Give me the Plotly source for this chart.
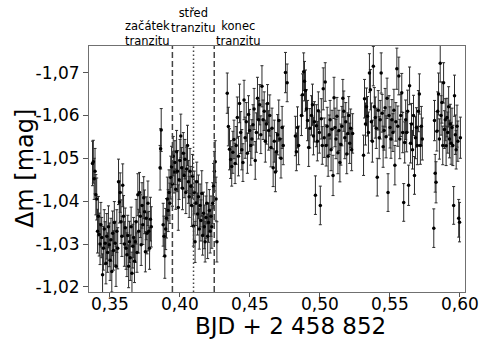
import plotly.graph_objects as go

# ---------------- data ----------------
g1_bjd = [0.3375, 0.3381, 0.3387, 0.3393, 0.3399, 0.3405, 0.3411, 0.3417, 0.3423, 0.3429,
          0.3435, 0.3441, 0.3447, 0.3453, 0.3459, 0.3465, 0.3471, 0.3477, 0.3483, 0.3489,
          0.3495, 0.3501, 0.3507, 0.3513, 0.3519, 0.3525, 0.3531, 0.3537, 0.3543, 0.3549,
          0.3555, 0.3561, 0.3567, 0.3573, 0.3579, 0.3585, 0.3591, 0.3597, 0.3603, 0.3609,
          0.3615, 0.3621, 0.3627, 0.3633, 0.3639, 0.3645, 0.3651, 0.3657, 0.3663, 0.3669,
          0.3675, 0.3681, 0.3687, 0.3693, 0.3699, 0.3705, 0.3711, 0.3717, 0.3723, 0.3729,
          0.3735, 0.3741, 0.3747, 0.3753, 0.3759, 0.3765, 0.3771, 0.3777, 0.3783, 0.3789,
          0.3795]
g1_dmag = [-1.0488, -1.0492, -1.0452, -1.0470, -1.0415,
           -1.0405, -1.0330, -1.0365, -1.0322, -1.0300, -1.0345,
           -1.0315, -1.0228, -1.0290, -1.0335, -1.0302, -1.0255, -1.0318, -1.0280, -1.0340, -1.0298,
           -1.0262, -1.0310, -1.0236, -1.0325, -1.0285, -1.0350, -1.0302, -1.0248, -1.0330, -1.0290,
           -1.0445, -1.0398, -1.0420, -1.0352, -1.0318, -1.0437, -1.0365, -1.0300, -1.0338, -1.0290,
           -1.0275, -1.0320, -1.0248, -1.0305, -1.0268, -1.0340, -1.0232, -1.0295, -1.0315, -1.0260,
           -1.0305, -1.0352, -1.0280, -1.0415, -1.0330, -1.0420, -1.0365, -1.0298, -1.0390, -1.0345,
           -1.0408, -1.0375, -1.0282, -1.0360, -1.0325, -1.0395, -1.0330, -1.0290, -1.0358, -1.0340]
g1_err = [0.0052, 0.0050, 0.0048, 0.0053, 0.0047, 0.0049, 0.0051, 0.0046, 0.0050, 0.0048,
          0.0052, 0.0047, 0.0049, 0.0051, 0.0045, 0.0050, 0.0048, 0.0053, 0.0046, 0.0049,
          0.0051, 0.0047, 0.0050, 0.0048, 0.0052, 0.0046, 0.0049, 0.0051, 0.0047, 0.0050,
          0.0048, 0.0053, 0.0049, 0.0046, 0.0051, 0.0047, 0.0050, 0.0048, 0.0052, 0.0046,
          0.0049, 0.0051, 0.0047, 0.0050, 0.0048, 0.0053, 0.0046, 0.0049, 0.0051, 0.0047,
          0.0050, 0.0048, 0.0052, 0.0046, 0.0049, 0.0051, 0.0047, 0.0050, 0.0048, 0.0053,
          0.0046, 0.0049, 0.0051, 0.0047, 0.0050, 0.0048, 0.0052, 0.0046, 0.0049, 0.0051,
          0.0047]

g1b_bjd = [0.3858, 0.3862, 0.3866]
g1b_dmag = [-1.0478, -1.0522, -1.0566]
g1b_err = [0.0052, 0.0047, 0.0050]

g2_bjd = [0.3880, 0.3886, 0.3892, 0.3898, 0.3904, 0.3910, 0.3916, 0.3922, 0.3928, 0.3934,
          0.3940, 0.3946, 0.3952, 0.3958, 0.3964, 0.3970, 0.3976, 0.3982, 0.3988, 0.3994,
          0.4000, 0.4006, 0.4012, 0.4018, 0.4024, 0.4030, 0.4036, 0.4042, 0.4048, 0.4054,
          0.4060, 0.4066, 0.4072, 0.4078, 0.4084, 0.4090, 0.4096, 0.4102, 0.4108, 0.4114,
          0.4120, 0.4126, 0.4132, 0.4138, 0.4144, 0.4150, 0.4156, 0.4162, 0.4168, 0.4174,
          0.4180, 0.4186, 0.4192, 0.4198, 0.4204, 0.4210, 0.4216, 0.4222, 0.4228, 0.4234,
          0.4240, 0.4246, 0.4252, 0.4258, 0.4264]
g2_dmag = [-1.0345, -1.0318, -1.0272, -1.0335, -1.0360, -1.0405, -1.0378, -1.0420, -1.0395, -1.0455, -1.0480,
           -1.0440, -1.0505, -1.0468, -1.0490, -1.0428, -1.0515, -1.0470, -1.0385, -1.0450, -1.0495,
           -1.0552, -1.0478, -1.0430, -1.0512, -1.0460, -1.0498, -1.0420, -1.0475, -1.0530, -1.0445,
           -1.0410, -1.0470, -1.0435, -1.0390, -1.0458, -1.0342, -1.0420, -1.0305, -1.0395, -1.0445,
           -1.0370, -1.0410, -1.0335, -1.0390, -1.0355, -1.0418, -1.0320, -1.0372, -1.0340, -1.0305,
           -1.0362, -1.0395, -1.0318, -1.0350, -1.0378, -1.0330, -1.0365, -1.0340, -1.0395, -1.0435,
           -1.0470, -1.0492, -1.0405, -1.0305]
g2_err = [0.0050, 0.0047, 0.0052, 0.0048, 0.0046, 0.0051, 0.0049, 0.0053, 0.0047, 0.0050,
          0.0048, 0.0052, 0.0046, 0.0049, 0.0051, 0.0047, 0.0050, 0.0048, 0.0053, 0.0046,
          0.0049, 0.0051, 0.0047, 0.0050, 0.0048, 0.0052, 0.0046, 0.0049, 0.0051, 0.0047,
          0.0050, 0.0048, 0.0053, 0.0046, 0.0049, 0.0051, 0.0047, 0.0050, 0.0048, 0.0052,
          0.0046, 0.0049, 0.0051, 0.0047, 0.0050, 0.0048, 0.0053, 0.0046, 0.0049, 0.0051,
          0.0047, 0.0050, 0.0048, 0.0052, 0.0046, 0.0049, 0.0051, 0.0047, 0.0050, 0.0048,
          0.0053, 0.0046, 0.0049, 0.0051, 0.0047]

g3_bjd = [0.4338, 0.4346, 0.4354, 0.4362, 0.4370, 0.4378, 0.4386, 0.4394,
          0.4402, 0.4410, 0.4418, 0.4426, 0.4434, 0.4442, 0.4450,
          0.4458, 0.4466, 0.4474, 0.4482, 0.4490, 0.4498, 0.4506,
          0.4514, 0.4522, 0.4530, 0.4538, 0.4546, 0.4554, 0.4562,
          0.4570, 0.4578, 0.4586, 0.4594, 0.4602, 0.4610, 0.4618, 0.4626,
          0.4634, 0.4642, 0.4650, 0.4658, 0.4666, 0.4674, 0.4682, 0.4690,
          0.4698, 0.4706, 0.4714, 0.4722, 0.4730, 0.4738, 0.4754, 0.4766]
g3_dmag = [-1.0652, -1.0574, -1.0521, -1.0497, -1.0481, -1.0514, -1.0544, -1.0488,
           -1.0530, -1.0595, -1.0505, -1.0628, -1.0560, -1.0520, -1.0490,
           -1.0636, -1.0548, -1.0585, -1.0512, -1.0602, -1.0565, -1.0530,
           -1.0545, -1.0578, -1.0615, -1.0495, -1.0560, -1.0640, -1.0590,
           -1.0625, -1.0555, -1.0668, -1.0590, -1.0610, -1.0540, -1.0580, -1.0628,
           -1.0565, -1.0600, -1.0525, -1.0570, -1.0478, -1.0540, -1.0468, -1.0515,
           -1.0555, -1.0588, -1.0545, -1.0500, -1.0572, -1.0530, -1.0700, -1.0676]
g3_err = [0.0047, 0.0045, 0.0048, 0.0044, 0.0046, 0.0049, 0.0045, 0.0047,
          0.0044, 0.0048, 0.0046, 0.0045, 0.0049, 0.0047, 0.0044,
          0.0046, 0.0048, 0.0045, 0.0047, 0.0044, 0.0049, 0.0046,
          0.0045, 0.0047, 0.0048, 0.0044, 0.0046, 0.0049, 0.0045,
          0.0047, 0.0044, 0.0048, 0.0046, 0.0045, 0.0049, 0.0047, 0.0044,
          0.0046, 0.0048, 0.0045, 0.0047, 0.0044, 0.0049, 0.0046, 0.0045,
          0.0047, 0.0048, 0.0044, 0.0046, 0.0049, 0.0045, 0.0047, 0.0044]

g4a_bjd = [0.4825, 0.4832, 0.4840, 0.4848, 0.4868, 0.4876, 0.4884, 0.4890, 0.4897, 0.4904,
           0.4912, 0.4920, 0.4928]
g4a_dmag = [-1.0552, -1.0515, -1.0572, -1.0530, -1.0600, -1.0648, -1.0702, -1.0680, -1.0658, -1.0615,
            -1.0588, -1.0525, -1.0570]
g4a_err = [0.0046, 0.0044, 0.0048, 0.0045, 0.0047, 0.0049, 0.0044, 0.0046, 0.0048, 0.0045,
           0.0047, 0.0044, 0.0046]

g4b_bjd = [0.4940, 0.4947, 0.4954, 0.4961, 0.4968, 0.4975, 0.4982, 0.4989, 0.4996, 0.5003,
           0.5010, 0.5017, 0.5024, 0.5031, 0.5038, 0.5045, 0.5052, 0.5059, 0.5066, 0.5073,
           0.5080, 0.5087, 0.5094, 0.5101, 0.5108, 0.5115, 0.5122, 0.5129, 0.5136, 0.5143,
           0.5150, 0.5157, 0.5164, 0.5171, 0.5178, 0.5185, 0.5192, 0.5199, 0.5206, 0.5213,
           0.5220, 0.5227, 0.5234]
g4b_dmag = [-1.0600, -1.0625, -1.0552, -1.0585, -1.0414, -1.0576, -1.0540, -1.0611, -1.0560, -1.0390,
            -1.0592, -1.0530, -1.0662, -1.0548, -1.0678, -1.0530, -1.0575, -1.0505, -1.0555, -1.0590,
            -1.0520, -1.0568, -1.0460, -1.0641, -1.0572, -1.0545, -1.0598, -1.0513, -1.0565, -1.0490,
            -1.0532, -1.0575, -1.0640, -1.0610, -1.0548, -1.0585, -1.0510, -1.0558, -1.0600, -1.0535,
            -1.0570, -1.0520, -1.0558]
g4b_err = [0.0046, 0.0048, 0.0044, 0.0047, 0.0045, 0.0049, 0.0046, 0.0044, 0.0048, 0.0045,
           0.0047, 0.0044, 0.0049, 0.0046, 0.0045, 0.0048, 0.0044, 0.0047, 0.0046, 0.0045,
           0.0049, 0.0044, 0.0047, 0.0048, 0.0045, 0.0046, 0.0044, 0.0049, 0.0047, 0.0045,
           0.0048, 0.0046, 0.0044, 0.0047, 0.0049, 0.0045, 0.0046, 0.0048, 0.0044, 0.0047,
           0.0045, 0.0049, 0.0046]

g5_bjd = [0.5312, 0.5319, 0.5326, 0.5333, 0.5340, 0.5347, 0.5354, 0.5361, 0.5368, 0.5375,
          0.5382, 0.5389, 0.5396, 0.5403, 0.5410, 0.5417, 0.5424, 0.5431, 0.5438, 0.5445,
          0.5452, 0.5459, 0.5466, 0.5473, 0.5480, 0.5487, 0.5494, 0.5501, 0.5508, 0.5515,
          0.5522, 0.5529, 0.5536, 0.5543, 0.5550, 0.5557, 0.5564, 0.5571, 0.5578, 0.5585,
          0.5592, 0.5599, 0.5606, 0.5613, 0.5620, 0.5627, 0.5634, 0.5641, 0.5648, 0.5655,
          0.5662, 0.5669, 0.5676, 0.5683, 0.5690, 0.5697, 0.5704, 0.5711, 0.5718, 0.5725,
          0.5732]
g5_dmag = [-1.0507, -1.0639, -1.0580, -1.0620, -1.0598, -1.0560, -1.0699, -1.0660, -1.0585, -1.0540,
           -1.0715, -1.0620, -1.0595, -1.0570, -1.0456, -1.0612, -1.0548, -1.0590, -1.0699, -1.0605,
           -1.0527, -1.0565, -1.0618, -1.0550, -1.0640, -1.0420, -1.0600, -1.0572, -1.0545, -1.0590,
           -1.0560, -1.0612, -1.0484, -1.0585, -1.0709, -1.0575, -1.0692, -1.0545, -1.0600, -1.0653,
           -1.0560, -1.0397, -1.0537, -1.0590, -1.0560, -1.0610, -1.0437, -1.0669, -1.0535, -1.0580,
           -1.0520, -1.0600, -1.0460, -1.0548, -1.0572, -1.0530, -1.0610, -1.0650, -1.0530, -1.0575,
           -1.0545]
g5_err = [0.0047, 0.0045, 0.0049, 0.0044, 0.0046, 0.0048, 0.0045, 0.0047, 0.0044, 0.0049,
          0.0046, 0.0045, 0.0048, 0.0047, 0.0044, 0.0046, 0.0049, 0.0045, 0.0047, 0.0044,
          0.0048, 0.0046, 0.0045, 0.0049, 0.0047, 0.0044, 0.0046, 0.0048, 0.0045, 0.0047,
          0.0044, 0.0049, 0.0046, 0.0045, 0.0048, 0.0047, 0.0044, 0.0046, 0.0049, 0.0045,
          0.0047, 0.0044, 0.0048, 0.0046, 0.0045, 0.0049, 0.0047, 0.0044, 0.0046, 0.0048,
          0.0045, 0.0047, 0.0044, 0.0049, 0.0046, 0.0045, 0.0048, 0.0047, 0.0044, 0.0046,
          0.0049]

g6_bjd = [0.5814, 0.5819, 0.5824, 0.5830, 0.5836, 0.5842, 0.5848, 0.5854, 0.5860, 0.5866,
          0.5872, 0.5878, 0.5884, 0.5890, 0.5896, 0.5902, 0.5908, 0.5914, 0.5920, 0.5926,
          0.5932, 0.5938, 0.5944, 0.5950, 0.5956, 0.5962, 0.5968, 0.5974, 0.5980, 0.5986,
          0.5992, 0.5998, 0.6004]
g6_dmag = [-1.0337, -1.0588, -1.0465, -1.0444, -1.0563, -1.0610, -1.0650, -1.0545, -1.0722, -1.0600,
           -1.0630, -1.0530, -1.0676, -1.0567, -1.0590, -1.0529, -1.0595, -1.0560, -1.0620, -1.0545,
           -1.0580, -1.0535, -1.0572, -1.0530, -1.0390, -1.0646, -1.0555, -1.0520, -1.0575, -1.0540,
           -1.0360, -1.0351, -1.0548]
g6_err = [0.0045, 0.0047, 0.0044, 0.0048, 0.0046, 0.0045, 0.0049, 0.0047, 0.0044, 0.0046,
          0.0048, 0.0045, 0.0047, 0.0044, 0.0049, 0.0046, 0.0045, 0.0048, 0.0047, 0.0044,
          0.0046, 0.0049, 0.0045, 0.0047, 0.0044, 0.0048, 0.0046, 0.0045, 0.0049, 0.0047,
          0.0044, 0.0046, 0.0048]

transit_start = 0.3946
transit_mid = 0.4097
transit_end = 0.4245

x_ticks = [0.35, 0.40, 0.45, 0.50, 0.55, 0.60]
x_ticklabels = ["0,35", "0,40", "0,45", "0,50", "0,55", "0,60"]
y_ticks = [-1.07, -1.06, -1.05, -1.04, -1.03, -1.02]
y_ticklabels = ["-1,07", "-1,06", "-1,05", "-1,04", "-1,03", "-1,02"]

# ---------------- assemble ----------------
groups = [(g1_bjd, g1_dmag, g1_err), (g1b_bjd, g1b_dmag, g1b_err), (g2_bjd, g2_dmag, g2_err),
          (g3_bjd, g3_dmag, g3_err), (g4a_bjd, g4a_dmag, g4a_err), (g4b_bjd, g4b_dmag, g4b_err),
          (g5_bjd, g5_dmag, g5_err), (g6_bjd, g6_dmag, g6_err)]
bjd, dmag, err = [], [], []
for gx, gy, ge in groups:
    assert len(gx) == len(gy) == len(ge), (len(gx), len(gy), len(ge))
    bjd += gx
    dmag += gy
    err += ge

FONT = "DejaVu Sans"

fig = go.Figure()
fig.add_trace(go.Scatter(
    x=bjd, y=dmag, mode="markers",
    marker=dict(color="black", size=3.5),
    error_y=dict(type="data", array=err, color="#2b2b2b", thickness=1, width=1.5),
    showlegend=False,
))

line_color = "#444444"
for xv, dash in [(transit_start, "6px,3px"), (transit_mid, "1.5px,2.5px"), (transit_end, "6px,3px")]:
    fig.add_shape(type="line", xref="x", yref="paper", x0=xv, x1=xv, y0=0, y1=1,
                  line=dict(color=line_color, width=1.5, dash=dash), layer="above")

ann_font = dict(family=FONT, size=11.5, color="black")
fig.add_annotation(text="začátek<br>tranzitu", x=transit_start, xref="x", y=1, yref="paper",
                   xanchor="right", yanchor="bottom", showarrow=False, font=ann_font, align="center",
                   yshift=-4)
fig.add_annotation(text="střed<br>tranzitu", x=transit_mid, xref="x", y=1, yref="paper",
                   xanchor="center", yanchor="bottom", showarrow=False, font=ann_font, align="center",
                   yshift=9)
fig.add_annotation(text="konec<br>tranzitu", x=transit_end, xref="x", y=1, yref="paper",
                   xanchor="left", yanchor="bottom", showarrow=False, font=ann_font, align="center",
                   yshift=-4)

# x tick labels placed right under their ticks (on the x axis scale)
for tv, tt in zip(x_ticks, x_ticklabels):
    fig.add_annotation(text=tt, x=tv, xref="x", y=0, yref="paper", xanchor="center",
                       yanchor="top", yshift=0, showarrow=False,
                       font=dict(family=FONT, size=17, color="black"))

# axis titles
fig.add_annotation(text="BJD + 2 458 852", x=0.535, xref="paper", y=-0.076, yref="paper",
                   xanchor="center", yanchor="top", showarrow=False,
                   font=dict(family=FONT, size=23, color="black"))
fig.add_annotation(text="Δm [mag]", x=-0.170, xref="paper", y=0.5, yref="paper",
                   xanchor="center", yanchor="middle", textangle=-90, showarrow=False,
                   font=dict(family=FONT, size=24, color="black"))

axis_common = dict(showgrid=False, zeroline=False, showline=True, mirror=True,
                   linecolor="#707070", linewidth=1, ticks="outside", ticklen=5,
                   tickcolor="#555555", tickwidth=1,
                   tickfont=dict(family=FONT, size=17, color="black"))

fig.update_layout(
    width=483, height=340,
    margin=dict(l=89, r=18, t=46, b=48),
    paper_bgcolor="white", plot_bgcolor="white",
    font=dict(family=FONT, color="black"),
    xaxis=dict(range=[0.335, 0.6037], tickmode="array", tickvals=x_ticks, ticktext=x_ticklabels,
               showticklabels=False, **{**axis_common, "ticklen": 4}),
    yaxis=dict(range=[-1.0188, -1.0762], tickmode="array", tickvals=y_ticks, ticktext=y_ticklabels,
               **axis_common),
)

fig.write_html("out.html")
